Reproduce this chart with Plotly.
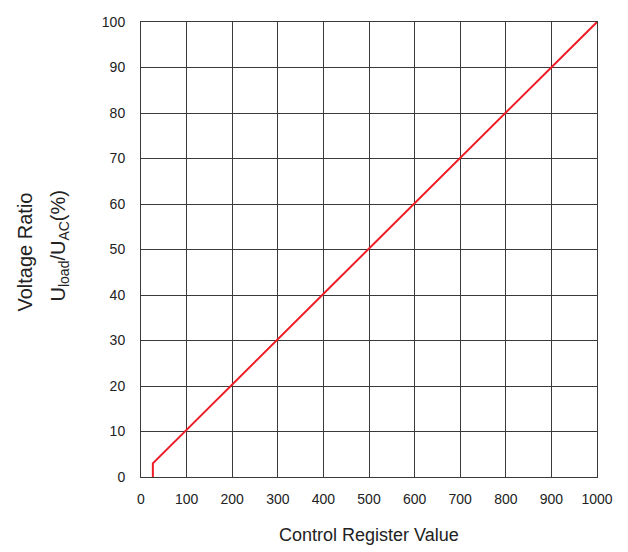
import plotly.graph_objects as go

x_vals = [26, 26, 1000]
y_vals = [0, 3, 100]
x_ticks = [0, 100, 200, 300, 400, 500, 600, 700, 800, 900, 1000]
y_ticks = [0, 10, 20, 30, 40, 50, 60, 70, 80, 90, 100]

fig = go.Figure()
fig.add_trace(go.Scatter(x=x_vals, y=y_vals, mode="lines",
                         line=dict(color="#ee1c25", width=2), showlegend=False))

axis_common = dict(showgrid=True, gridcolor="#3a3a3a", gridwidth=1,
                   showline=True, linecolor="#3a3a3a", linewidth=1, mirror=True,
                   zeroline=False, ticks="", ticklabelstandoff=9, automargin=False,
                   tickfont=dict(family="Liberation Sans, Arial", size=14, color="#222"))

fig.update_xaxes(range=[0, 1000], tickvals=x_ticks, **axis_common)
fig.update_yaxes(range=[0, 100], tickvals=y_ticks, **axis_common)
fig.update_yaxes(ticklabelstandoff=12)

fig.update_layout(
    width=628, height=552,
    margin=dict(l=133, r=39, t=14, b=83),
    plot_bgcolor="white", paper_bgcolor="white",
    font=dict(family="Liberation Sans, Arial", color="#222"),
    annotations=[
        dict(text="Control Register Value", xref="paper", yref="paper",
             x=0.5, y=0, yshift=-58, xanchor="center", yanchor="middle",
             showarrow=False, font=dict(size=18)),
        dict(text="Voltage Ratio", xref="paper", yref="paper", x=0, xshift=-117,
             y=0.5, yshift=-3, xanchor="center", yanchor="middle",
             textangle=-90, showarrow=False, font=dict(size=20)),
        dict(text="U<sub>load</sub>/U<sub>AC</sub>(%)", xref="paper", yref="paper", x=0, xshift=-82,
             y=0.5, yshift=3, xanchor="center", yanchor="middle",
             textangle=-90, showarrow=False, font=dict(size=20)),
    ],
)

fig.write_html("out.html")
